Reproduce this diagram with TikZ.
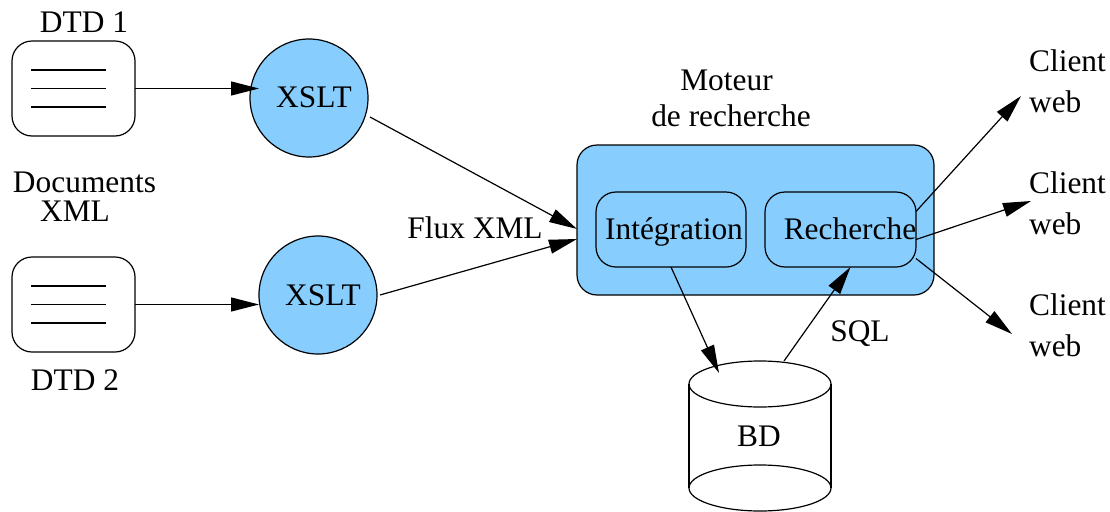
\documentclass[tikz,border=0pt]{standalone}
\usepackage{fontspec}
\setmainfont{Liberation Serif}
\usetikzlibrary{arrows.meta}
\usetikzlibrary{shapes.geometric}
\definecolor{bleuciel}{RGB}{135,206,255}
\tikzset{
  texte/.style={font=\fontsize{15.7}{20.5}\selectfont,inner sep=0pt},
  fichier/.style={draw,rounded corners=10pt,minimum width=61.5pt,minimum height=47.5pt,outer sep=0pt},
  filtre/.style={draw,circle,fill=bleuciel,minimum size=59pt,outer sep=0pt,inner sep=0pt},
  bloc/.style={draw,rounded corners=10pt,fill=bleuciel,outer sep=0pt},
  disque/.style={draw,ellipse,minimum width=71pt,minimum height=23pt,inner sep=0pt,outer sep=0pt},
  fleche/.style={-{Triangle[length=14pt,width=7pt]}},
}
\begin{document}
\begin{tikzpicture}[x=0.5pt,y=0.5pt,line width=0.6pt,line join=round]
\useasboundingbox (0,0) rectangle (1110,511);
% fichiers d'entree
\node[fichier] (doc1) at (73.5,422.5) {};
\node[fichier] (doc2) at (73.5,206.5) {};
\foreach \d in {doc1,doc2}
  \foreach \yy in {-9.25,0,9.25}
    \draw ([xshift=-21.25pt,yshift=\yy pt]\d.center) -- ++(75,0);
\node[texte] (dtd1) at (84,489) {DTD 1};
\node[texte] (dtd2) at (75,131) {DTD 2};
\node[texte] (docs) at (84.5,329) {Documents};
\node[texte] (xml) at (75,300) {XML};
% transformations
\node[filtre] (xslt1) at (309,413) {};
\node[filtre] (xslt2) at (318,216) {};
\node[texte] (lab1) at (314,414) {XSLT};
\node[texte] (lab2) at (323,216) {XSLT};
% moteur
\node[bloc,minimum width=178.5pt,minimum height=75pt] (moteur) at (755.5,291) {};
\node[bloc,minimum width=75pt,minimum height=37.5pt] (integ) at (671,281.5) {};
\node[bloc,minimum width=75.5pt,minimum height=37.5pt] (rech) at (840.5,281.5) {};
\node[texte] at (674,279) {Intégration};
\node[texte] at (850,282) {Recherche};
\node[texte] (mot) at (726.5,431) {Moteur};
\node[texte] (rec) at (731,395) {de recherche};
\node[texte] (flux) at (475,283) {Flux XML};
\node[texte] (sql) at (860,177) {SQL};
% base
\node[disque] (bdhaut) at (760,127) {};
\node[disque] (bdbas) at (760,23) {};
\draw (bdhaut.west) -- (bdbas.west);
\draw (bdhaut.east) -- (bdbas.east);
\node[texte] (bd) at (759,75) {BD};
% clients
\node[texte,align=left,anchor=west] (client1) at (1028.5,430) {Client\\web};
\node[texte,align=left,anchor=west] (client2) at (1028.5,308) {Client\\web};
\node[texte,align=left,anchor=west] (client3) at (1028.5,186) {Client\\web};
\coordinate (sortie1) at (1021,415);
\coordinate (sortie2) at (1031,310);
\coordinate (sortie3) at (1012,177);
% liaisons
\draw[fleche] (doc1.east) -- (doc1.east -| xslt1.west) -- ++(9,0);
\draw[fleche] (doc2.east) -- (doc2.east -| xslt2.west);
\draw[fleche] ([shift={(61,-19)}]xslt1.center) -- ([yshift=-4.5pt]moteur.west);
\draw[fleche] ([shift={(62,0)}]xslt2.center) -- ([yshift=-9.5pt]moteur.west);
\draw[fleche] (integ.south) -- ([xshift=-20.5pt,yshift=-6pt]bdhaut.north);
\draw[fleche] ([xshift=12pt]bdhaut.north) -- ([xshift=5pt]rech.south);
\draw[fleche] ([yshift=9pt]rech.east) -- (sortie1);
\draw[fleche] ([yshift=-5pt]rech.east) -- (sortie2);
\draw[fleche] ([yshift=-14.5pt]rech.east) -- (sortie3);
\end{tikzpicture}
\end{document}
